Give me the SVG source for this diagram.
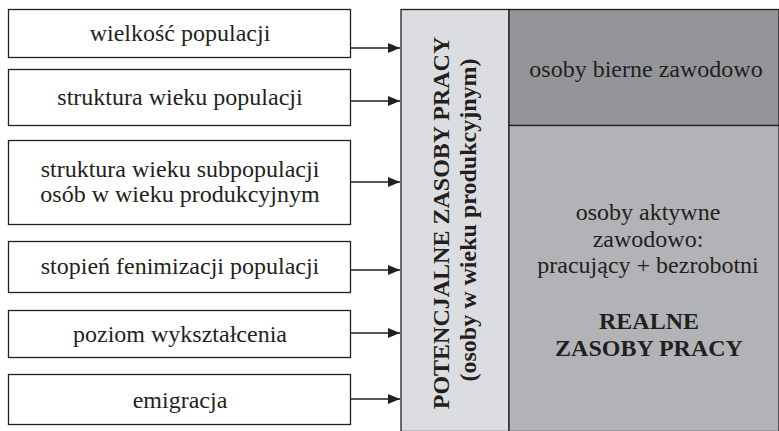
<svg xmlns="http://www.w3.org/2000/svg" width="779" height="431" viewBox="0 0 779 431">
<style>
.box{fill:#fff;stroke:#231f20;stroke-width:1.3}
.conn{stroke:#231f20;stroke-width:1.6;fill:none}
</style>
<defs>
<marker id="ah" viewBox="0 0 12 10" refX="12" refY="5" markerWidth="12" markerHeight="10" markerUnits="userSpaceOnUse" orient="auto">
<path d="M0,0 L12,5 L0,10 Z" fill="#231f20"/>
</marker>
</defs>
<g id="panel">
<rect x="401" y="9.5" width="108" height="422" fill="#dcdde0" stroke="#231f20" stroke-width="1.3"/>
<rect x="509" y="9.5" width="270" height="116" fill="#939598" stroke="#231f20" stroke-width="1.3"/>
<rect x="509" y="125.5" width="270" height="306" fill="#b1b3b6" stroke="#231f20" stroke-width="1.3"/>
</g>
<g font-family="Liberation Serif" font-size="24" fill="#231f20" text-anchor="middle">
<g id="potencjalne" font-weight="bold">
<text transform="translate(449,223) rotate(-90)">POTENCJALNE ZASOBY PRACY</text>
<text transform="translate(476,220) rotate(-90)">(osoby w wieku produkcyjnym)</text>
</g>
<g id="bierne">
<text x="646" y="77">osoby bierne zawodowo</text>
</g>
<g id="aktywne">
<text x="648" y="220">osoby aktywne</text>
<text x="648" y="247">zawodowo:</text>
<text x="648" y="273">pracujący + bezrobotni</text>
<text font-weight="bold" x="649" y="329">REALNE</text>
<text font-weight="bold" x="649" y="356">ZASOBY PRACY</text>
</g>
<g id="n1"><rect class="box" x="8.5" y="9.5" width="342" height="48"/><text x="180" y="41">wielkość populacji</text></g>
<g id="n2"><rect class="box" x="8.5" y="69.5" width="342" height="56"/><text x="180" y="105">struktura wieku populacji</text></g>
<g id="n3"><rect class="box" x="8.5" y="140.5" width="342" height="84"/><text x="180" y="177">struktura wieku subpopulacji</text><text x="180" y="202">osób w wieku produkcyjnym</text></g>
<g id="n4"><rect class="box" x="8.5" y="241.5" width="342" height="51"/><text x="180" y="274">stopień fenimizacji populacji</text></g>
<g id="n5"><rect class="box" x="8.5" y="310.5" width="342" height="47"/><text x="180" y="342">poziom wykształcenia</text></g>
<g id="n6"><rect class="box" x="8.5" y="374.5" width="342" height="50"/><text x="180" y="408">emigracja</text></g>
</g>
<g id="connectors">
<line class="conn" x1="351" y1="48" x2="400" y2="48" marker-end="url(#ah)"/>
<line class="conn" x1="351" y1="101" x2="400" y2="101" marker-end="url(#ah)"/>
<line class="conn" x1="351" y1="182" x2="400" y2="182" marker-end="url(#ah)"/>
<line class="conn" x1="351" y1="270" x2="400" y2="270" marker-end="url(#ah)"/>
<line class="conn" x1="351" y1="333" x2="400" y2="333" marker-end="url(#ah)"/>
<line class="conn" x1="351" y1="399" x2="400" y2="399" marker-end="url(#ah)"/>
</g>
</svg>
